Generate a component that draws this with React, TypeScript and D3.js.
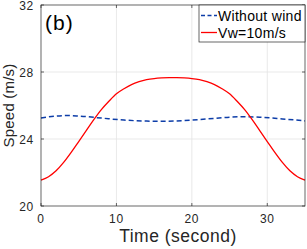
import { useEffect, useRef } from "react";
import * as d3 from "d3";

const timeRed = [0, 1, 2, 3, 4, 5, 6, 7, 8, 9, 10, 11, 12, 13, 14, 15, 16, 17, 17.5, 18, 19, 20, 21, 22, 23, 24, 25, 26, 27, 28, 29, 30, 31, 32, 33, 34, 35];
const speedRed = [21.55, 21.75, 22.1, 22.6, 23.2, 23.85, 24.5, 25.15, 25.75, 26.25, 26.7, 27.0, 27.25, 27.42, 27.54, 27.61, 27.65, 27.67, 27.67, 27.67, 27.65, 27.61, 27.54, 27.42, 27.25, 27.0, 26.7, 26.25, 25.75, 25.15, 24.5, 23.85, 23.2, 22.6, 22.1, 21.75, 21.55];
const timeBlue = [0, 2, 3.5, 5, 8, 11, 14, 16, 19, 22, 25, 27, 29, 32, 35];
const speedBlue = [25.25, 25.37, 25.4, 25.37, 25.25, 25.13, 25.07, 25.06, 25.1, 25.2, 25.3, 25.33, 25.3, 25.2, 25.08];
const xTicks = [0, 10, 20, 30];
const yTicks = [20, 24, 28, 32];
const seriesNames = ["Without wind", "Vw=10m/s"];

export default function App() {
  const ref = useRef<SVGSVGElement>(null);

  useEffect(() => {
    const svg = d3.select(ref.current);
    svg.selectAll("*").remove();
    const left = 41, right = 305, top = 5, bottom = 206;
    const x = d3.scaleLinear().domain([0, 35]).range([left, right]);
    const y = d3.scaleLinear().domain([20, 32]).range([bottom, top]);
    const font = "'Liberation Sans', Arial, sans-serif";

    svg.append("rect").attr("x", left).attr("y", top).attr("width", right - left).attr("height", bottom - top).attr("fill", "#fff");

    // grid
    svg.append("g").selectAll("line").data(xTicks.slice(1)).join("line")
      .attr("x1", (d) => x(d)).attr("x2", (d) => x(d)).attr("y1", top).attr("y2", bottom)
      .attr("stroke", "#e3e3e3").attr("stroke-width", 0.8);
    svg.append("g").selectAll("line").data(yTicks.slice(1, -1)).join("line")
      .attr("x1", left).attr("x2", right).attr("y1", (d) => y(d)).attr("y2", (d) => y(d))
      .attr("stroke", "#e3e3e3").attr("stroke-width", 0.8);

    const line = d3.line<[number, number]>().x((d) => x(d[0])).y((d) => y(d[1])).curve(d3.curveMonotoneX);

    svg.append("path")
      .datum(timeBlue.map((t, i) => [t, speedBlue[i]] as [number, number]))
      .attr("d", line).attr("fill", "none").attr("stroke", "#0d3da8").attr("stroke-width", 1.5)
      .attr("stroke-dasharray", "5,3");
    svg.append("path")
      .datum(timeRed.map((t, i) => [t, speedRed[i]] as [number, number]))
      .attr("d", line).attr("fill", "none").attr("stroke", "#ff0000").attr("stroke-width", 1.3);

    // axes box
    svg.append("rect").attr("x", left).attr("y", top).attr("width", right - left).attr("height", bottom - top)
      .attr("fill", "none").attr("stroke", "#262626").attr("stroke-width", 0.7);

    const tl = 3;
    xTicks.forEach((t) => {
      svg.append("line").attr("x1", x(t)).attr("x2", x(t)).attr("y1", bottom).attr("y2", bottom - tl).attr("stroke", "#262626").attr("stroke-width", 0.7);
      svg.append("line").attr("x1", x(t)).attr("x2", x(t)).attr("y1", top).attr("y2", top + tl).attr("stroke", "#262626").attr("stroke-width", 0.7);
      svg.append("text").attr("x", x(t)).attr("y", bottom + 17).attr("text-anchor", "middle")
        .attr("font-family", font).attr("font-size", 12).attr("letter-spacing", 0.7).attr("fill", "#262626").text(t);
    });
    yTicks.forEach((t) => {
      svg.append("line").attr("x1", left).attr("x2", left + tl).attr("y1", y(t)).attr("y2", y(t)).attr("stroke", "#262626").attr("stroke-width", 0.7);
      svg.append("line").attr("x1", right).attr("x2", right - tl).attr("y1", y(t)).attr("y2", y(t)).attr("stroke", "#262626").attr("stroke-width", 0.7);
      svg.append("text").attr("x", left - 7).attr("y", y(t) + 4.5).attr("text-anchor", "end")
        .attr("font-family", font).attr("font-size", 12).attr("letter-spacing", 0.7).attr("fill", "#262626").text(t);
    });

    svg.append("text").attr("x", (left + right) / 2 + 5).attr("y", 242).attr("text-anchor", "middle")
      .attr("font-family", font).attr("font-size", 17.5).attr("letter-spacing", 0.5).attr("fill", "#262626").text("Time (second)");
    svg.append("text").attr("transform", `translate(14,${(top + bottom) / 2}) rotate(-90)`).attr("text-anchor", "middle")
      .attr("font-family", font).attr("font-size", 15).attr("letter-spacing", 0.2).attr("fill", "#262626").text("Speed (m/s)");

    svg.append("text").attr("x", 45).attr("y", 30).attr("font-family", font).attr("font-size", 21)
      .attr("letter-spacing", 1).attr("fill", "#000").text("(b)");

    // legend
    const lx = 199, ly = 5, lw = 106, lh = 37;
    svg.append("rect").attr("x", lx).attr("y", ly).attr("width", lw).attr("height", lh)
      .attr("fill", "#fff").attr("stroke", "#262626").attr("stroke-width", 0.7);
    const colors = ["#0d3da8", "#ff0000"];
    seriesNames.forEach((name, i) => {
      const yy = ly + 10.5 + i * 17;
      svg.append("line").attr("x1", lx + 2).attr("x2", lx + 18).attr("y1", yy).attr("y2", yy)
        .attr("stroke", colors[i]).attr("stroke-width", i === 0 ? 1.5 : 1.3)
        .attr("stroke-dasharray", i === 0 ? "4,2.5" : null);
      svg.append("text").attr("x", lx + 19).attr("y", yy + 5).attr("font-family", font).attr("font-size", 14)
        .attr("letter-spacing", 0.3).attr("fill", "#000").text(name);
    });
  }, []);

  return (
    <svg ref={ref} width={307} height={249} style={{ position: "absolute", left: 0, top: 0, background: "#fff" }} />
  );
}
